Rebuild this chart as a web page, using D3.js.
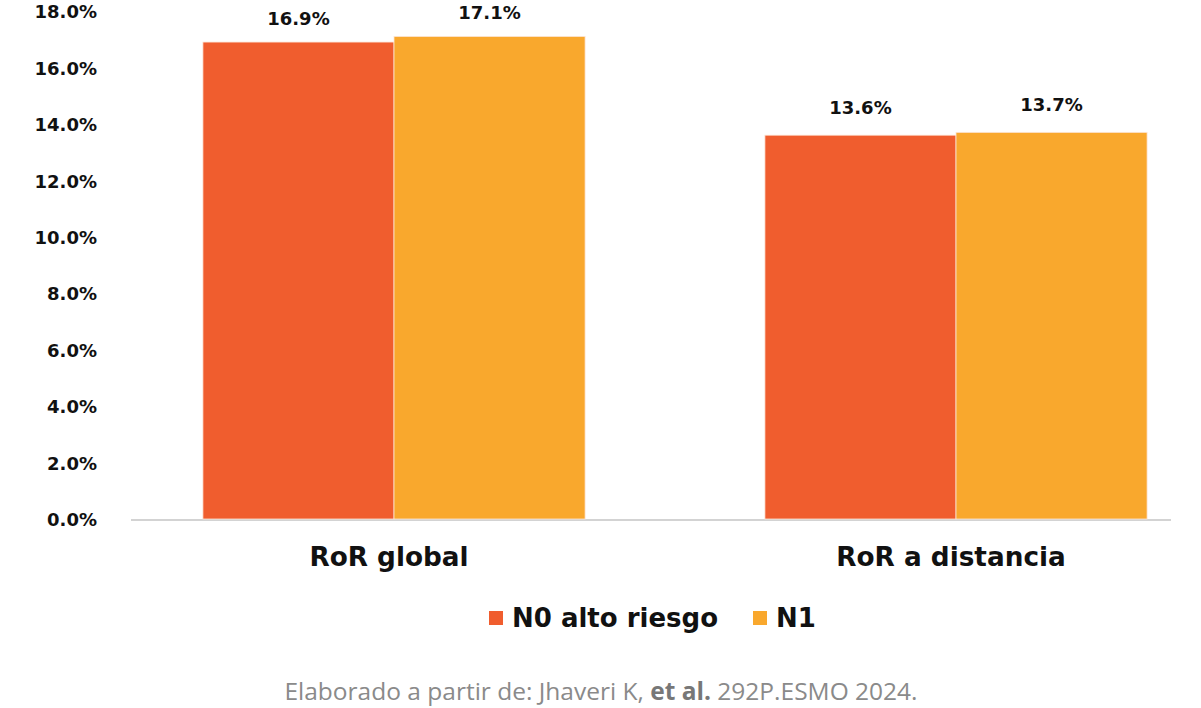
<!DOCTYPE html>
<html><head><meta charset="utf-8">
<script src="https://cdn.jsdelivr.net/npm/d3@7"></script>
<style>
body{margin:0;background:#fff;}
svg{display:block;}
</style></head>
<body>
<svg id="chart" width="1201" height="708"></svg>
<script>
const categories = ["RoR global", "RoR a distancia"];
const seriesNames = ["N0 alto riesgo", "N1"];
const seriesN0 = [16.9, 13.6];
const seriesN1 = [17.1, 13.7];
const valueLabels = [["16.9%", "13.6%"], ["17.1%", "13.7%"]];
const yTicks = [0, 2, 4, 6, 8, 10, 12, 14, 16, 18];
const colors = ["#F05D2E", "#F9A82D"];

const svg = d3.select("#chart");
const bold = "'DejaVu Sans', sans-serif";

const y = d3.scaleLinear().domain([0, 18]).range([519, 11]);
const x0 = d3.scaleBand().domain(categories).range([113, 1237]).paddingInner(0.32).paddingOuter(0.16);
const x1 = d3.scaleBand().domain(seriesNames).range([0, x0.bandwidth()]);

// baseline
svg.append("line").attr("x1", 131).attr("x2", 1171).attr("y1", y(0)+1).attr("y2", y(0)+1)
  .attr("stroke", "#d3d3d3").attr("stroke-width", 2);

// y axis
const yAxis = d3.axisLeft(y).tickValues(yTicks).tickFormat(d => d.toFixed(1) + "%").tickSize(0).tickPadding(0);
const ga = svg.append("g").attr("transform", "translate(97,1)").call(yAxis);
ga.select(".domain").remove();
ga.selectAll("text").attr("font-family", bold).attr("font-weight", "bold").attr("font-size", 18).attr("fill", "#111");

// bars
const series = [seriesN0, seriesN1];
const data = [];
categories.forEach((c, i) => series.forEach((s, j) => data.push({c, name: seriesNames[j], v: s[i], j, label: valueLabels[j][i]})));

svg.append("g").selectAll("rect").data(data).join("rect")
  .attr("x", d => x0(d.c) + x1(d.name))
  .attr("y", d => y(d.v))
  .attr("width", x1.bandwidth())
  .attr("height", d => y(0) - y(d.v))
  .attr("fill", d => colors[d.j])
  .attr("stroke", "#fde6d8").attr("stroke-width", 0.8);

svg.append("g").selectAll("text").data(data).join("text")
  .attr("x", d => x0(d.c) + x1(d.name) + x1.bandwidth()/2)
  .attr("y", d => y(d.v) - (d.v < 15 ? 21 : 17))
  .attr("text-anchor", "middle")
  .attr("font-family", bold).attr("font-weight", "bold").attr("font-size", 18).attr("fill", "#111")
  .text(d => d.label);

// category labels
svg.append("g").selectAll("text").data(categories).join("text")
  .attr("x", d => x0(d) + x0.bandwidth()/2 - 5)
  .attr("y", 566)
  .attr("text-anchor", "middle")
  .attr("font-family", bold).attr("font-weight", "bold").attr("font-size", 26.3).attr("fill", "#111")
  .text(d => d);

// legend
const legX = [489, 753];
const lg = svg.append("g").selectAll("g").data(seriesNames).join("g")
  .attr("transform", (d, i) => `translate(${legX[i]},611)`);
lg.append("rect").attr("width", 14).attr("height", 14).attr("fill", (d, i) => colors[i]);
lg.append("text").attr("x", 23).attr("y", 16)
  .attr("font-family", bold).attr("font-weight", "bold").attr("font-size", 26).attr("fill", "#111")
  .text(d => d);

// footer
const ft = svg.append("text").attr("x", 601).attr("y", 700).attr("text-anchor", "middle")
  .attr("font-family", "'Liberation Sans Narrow', 'Open Sans', sans-serif").attr("font-size", 24.5).attr("fill", "#8a8a8a");
ft.append("tspan").text("Elaborado a partir de: Jhaveri K, ");
ft.append("tspan").attr("font-weight", "bold").attr("fill", "#777").text("et al.");
ft.append("tspan").text(" 292P.ESMO 2024.");
</script>
</body></html>
